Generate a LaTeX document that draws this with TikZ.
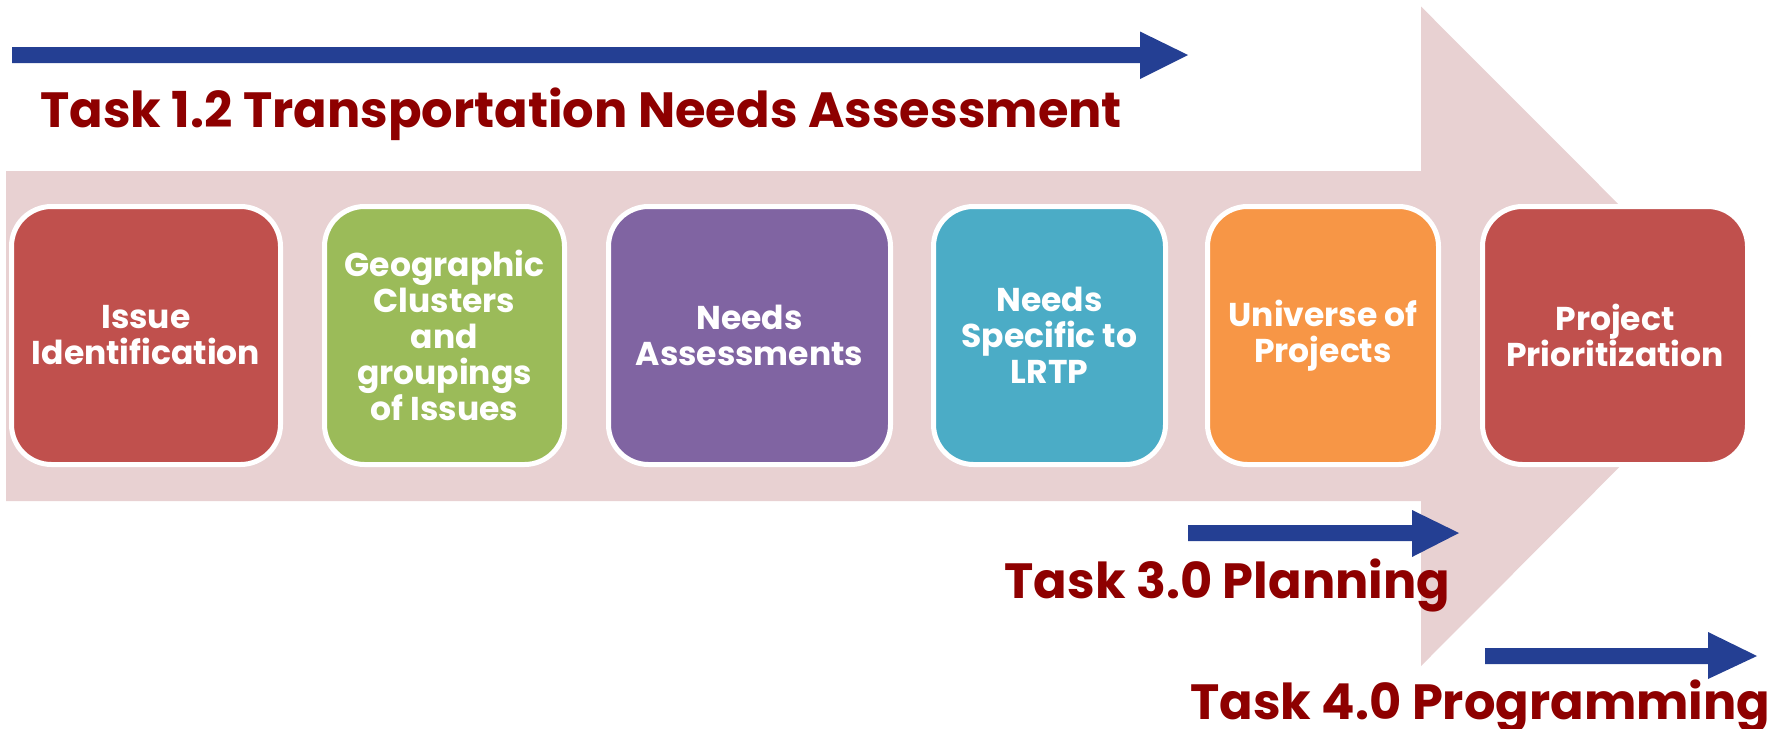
\documentclass[tikz,border=0pt]{standalone}
\usepackage{fontspec}
\setmainfont{Poppins}
\definecolor{bgpink}{HTML}{E8D1D2}
\definecolor{arrblue}{HTML}{243F93}
\definecolor{taskred}{HTML}{8E0000}
\definecolor{cred}{HTML}{C0504D}
\definecolor{cgreen}{HTML}{9BBB59}
\definecolor{cpurple}{HTML}{8064A2}
\definecolor{ccyan}{HTML}{4BACC6}
\definecolor{corange}{HTML}{F79646}
\tikzset{
  stepbox/.style={draw=white, line width=5pt, rounded corners=40pt, minimum height=258pt,
    text=white, align=center, inner sep=0pt, font=\bfseries\fontsize{33}{36}\selectfont},
  tasklabel/.style={text=taskred, anchor=base west, inner sep=0pt, font=\bfseries\fontsize{49.5}{52}\selectfont},
  bluearrow/.style={fill=arrblue, draw=none}
}
\begin{document}
\begin{tikzpicture}[x=1pt,y=-1pt]
\useasboundingbox (0,0) rectangle (1774,728);
% big background arrow
\fill[bgpink] (6,171) -- (1421,171) -- (1421,6.5) -- (1750,336) -- (1421,666) -- (1421,501) -- (6,501) -- cycle;
% blue arrows
\fill[bluearrow] (12,47) -- (1140,47) -- (1140,31.5) -- (1188,55) -- (1140,79) -- (1140,63) -- (12,63) -- cycle;
\fill[bluearrow] (1188,525) -- (1412,525) -- (1412,510) -- (1459,533) -- (1412,557) -- (1412,541) -- (1188,541) -- cycle;
\fill[bluearrow] (1485,648) -- (1708,648) -- (1708,632) -- (1757,656) -- (1708,679) -- (1708,664) -- (1485,664) -- cycle;
% task labels
\node[tasklabel] (t1) at (40,127.7) {Task 1.2 Transportation Needs Assessment};
\node[tasklabel] (t3) at (1004.5,598) {Task 3.0 Planning};
\node[tasklabel] (t4) at (1190,719.6) {Task 4.0 Programming};
% boxes
\node[stepbox, fill=cred, minimum width=269pt] (b1) at (146,335.5) {Issue\\Identification};
\node[stepbox, fill=cgreen, minimum width=240pt] (b2) at (444.5,335.5) {Geographic\\Clusters\\and\\groupings\\of Issues};
\node[stepbox, fill=cpurple, minimum width=282pt] (b3) at (749.5,335.5) {Needs\\Assessments};
\node[stepbox, fill=ccyan, minimum width=232pt] (b4) at (1049.5,335.5) {Needs\\Specific to\\LRTP};
\node[stepbox, fill=corange, minimum width=231pt] (b5) at (1323,335.5) {Universe of\\Projects};
\node[stepbox, fill=cred, minimum width=265pt] (b6) at (1615,335.5) {Project\\Prioritization};
\end{tikzpicture}
\end{document}
